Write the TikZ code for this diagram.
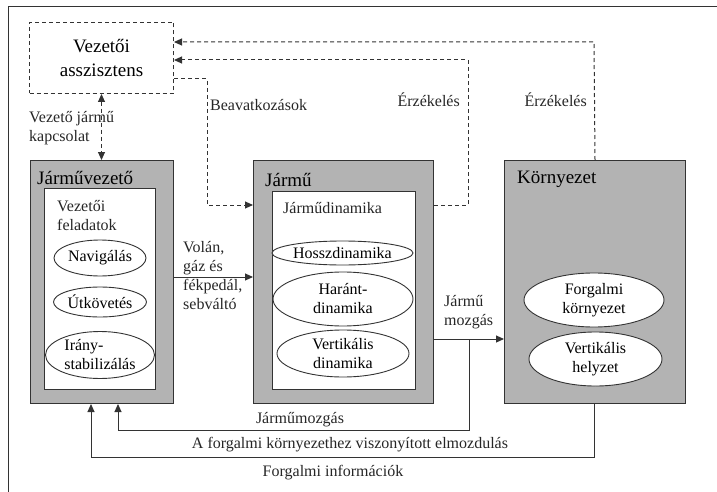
\documentclass[tikz,border=0pt]{standalone}
\usepackage{fontspec}
\setmainfont{Liberation Serif}
\usetikzlibrary{shapes.geometric,arrows.meta}
\definecolor{keret}{HTML}{333333}
\definecolor{szurke}{HTML}{B3B3B3}
\tikzset{
	vonal/.style={line width=1pt, draw=keret},
	nyil/.style={vonal, -{Triangle[length=8pt,width=7pt]}},
	nyilk/.style={vonal, {Triangle[length=8pt,width=7pt]}-{Triangle[length=8pt,width=7pt]}},
	szagg/.style={vonal, dash pattern=on 4pt off 3pt},
	doboz/.style={vonal, fill=szurke, inner sep=0pt, anchor=north west},
	belso/.style={vonal, fill=white, inner sep=0pt, anchor=north west},
	ellip/.style={ellipse, vonal, line width=0.9pt, fill=white, inner sep=0pt, align=center, font=\fontsize{16}{19}\selectfont},
	cim/.style={anchor=west, inner sep=0pt, font=\fontsize{19}{22}\selectfont},
	felirat/.style={inner sep=0pt, text=black!85, font=\fontsize{16}{19}\selectfont}
}
\begin{document}
\begin{tikzpicture}[x=1pt, y=-1pt]
	\useasboundingbox (0,0) rectangle (717,492);
	\clip (0,0) rectangle (717,492);
	\draw[vonal] (8,7) rectangle (730,510);
	% asszisztens
	\node[szagg, draw, anchor=north west, minimum width=144, minimum height=71, inner sep=0pt, align=center, font=\fontsize{19}{24}\selectfont] (asszisztens) at (29,22) {Vezetői\\asszisztens};
	% járművezető
	\node[doboz, minimum width=143, minimum height=243] (jarmuvezeto) at (30,160) {};
	\node[cim] (jvcim) at (37,178) {Járművezető};
	\node[belso, minimum width=111, minimum height=201] (feladatok) at (44,188) {};
	\node[felirat, anchor=north west, align=left] (jvfel) at (57,200) {Vezetői\\feladatok};
	\node[ellip, minimum width=92, minimum height=36] (navigalas) at (100,258) {Navigálás};
	\node[ellip, minimum width=93, minimum height=30] (utkovetes) at (100,302) {Útkövetés};
	\node[ellip, minimum width=109, minimum height=47, align=left] (iranystab) at (100,355) {Irány-\\stabilizálás};
	% jármű
	\node[doboz, minimum width=180, minimum height=243] (jarmu) at (253,160) {};
	\node[cim] (jcim) at (265,180) {Jármű};
	\node[belso, minimum width=143, minimum height=198] (dinamika) at (272,191) {};
	\node[felirat, anchor=west] (jdfel) at (283,208) {Járműdinamika};
	\node[ellip, minimum width=141, minimum height=24] (hossz) at (342.5,253) {Hosszdinamika};
	\node[ellip, minimum width=140, minimum height=54] (harant) at (343,299) {Haránt-\\dinamika};
	\node[ellip, minimum width=132, minimum height=47] (vertdin) at (343,353.5) {Vertikális\\dinamika};
	% környezet
	\node[doboz, minimum width=181, minimum height=243] (kornyezet) at (504,160) {};
	\node[cim] (kcim) at (517,179) {Környezet};
	\node[ellip, minimum width=140, minimum height=54] (forgkorny) at (594,300) {Forgalmi\\környezet};
	\node[ellip, minimum width=133, minimum height=54] (verthely) at (595.5,359) {Vertikális\\helyzet};
	% szaggatott kapcsolatok
	\coordinate (erz1) at (594,42);
	\coordinate (erz2) at (468,60);
	\coordinate (beav) at (207,79);
	\coordinate (beavle) at (207,205);
	\draw[szagg, nyil] (kornyezet.north) -- (erz1) -- (asszisztens.east |- erz1);
	\draw[szagg, nyil] (jarmu.east |- beavle) -| (erz2) -- (asszisztens.east |- erz2);
	\draw[szagg, nyil] (asszisztens.east |- beav) -- (beav) -- (beavle) -- (jarmu.west |- beavle);
	\draw[szagg, nyilk] (asszisztens.south) -- (jarmuvezeto.north -| asszisztens.south);
	\node[felirat, anchor=west] (beavfel) at (210,105) {Beavatkozások};
	\node[felirat, anchor=east] (erzfel1) at (460,100) {Érzékelés};
	\node[felirat, anchor=east] (erzfel2) at (587,100) {Érzékelés};
	\node[felirat, anchor=north west, align=left] (kapcsfel) at (29,111) {Vezető jármű\\kapcsolat};
	% folytonos kapcsolatok
	\coordinate (volan) at (213,277);
	\coordinate (mozg) at (469,339);
	\coordinate (mozgle) at (469,430);
	\coordinate (vissza1) at (118,430);
	\coordinate (forgle) at (594,457);
	\coordinate (vissza2) at (91,457);
	\draw[nyil] (jarmuvezeto.east |- volan) -- (jarmu.west |- volan);
	\draw[nyil] (jarmu.east |- mozg) -- (kornyezet.west |- mozg);
	\draw[nyil] (mozg) -- (mozgle) -- (vissza1) -- (jarmuvezeto.south -| vissza1);
	\draw[nyil] (kornyezet.south -| forgle) -- (forgle) -- (vissza2) -- (jarmuvezeto.south -| vissza2);
	\node[felirat, anchor=north west, align=left] (volanfel) at (183,241) {Volán,\\gáz és\\fékpedál,\\sebváltó};
	\node[felirat, anchor=north west, align=left] (mozgfel) at (444,295) {Jármű\\mozgás};
	\node[felirat] (jmfel) at (300,420) {Járműmozgás};
	\node[felirat] (elmozdfel) at (350,445) {A forgalmi környezethez viszonyított elmozdulás};
	\node[felirat] (infofel) at (333,473) {Forgalmi információk};
\end{tikzpicture}
\end{document}
